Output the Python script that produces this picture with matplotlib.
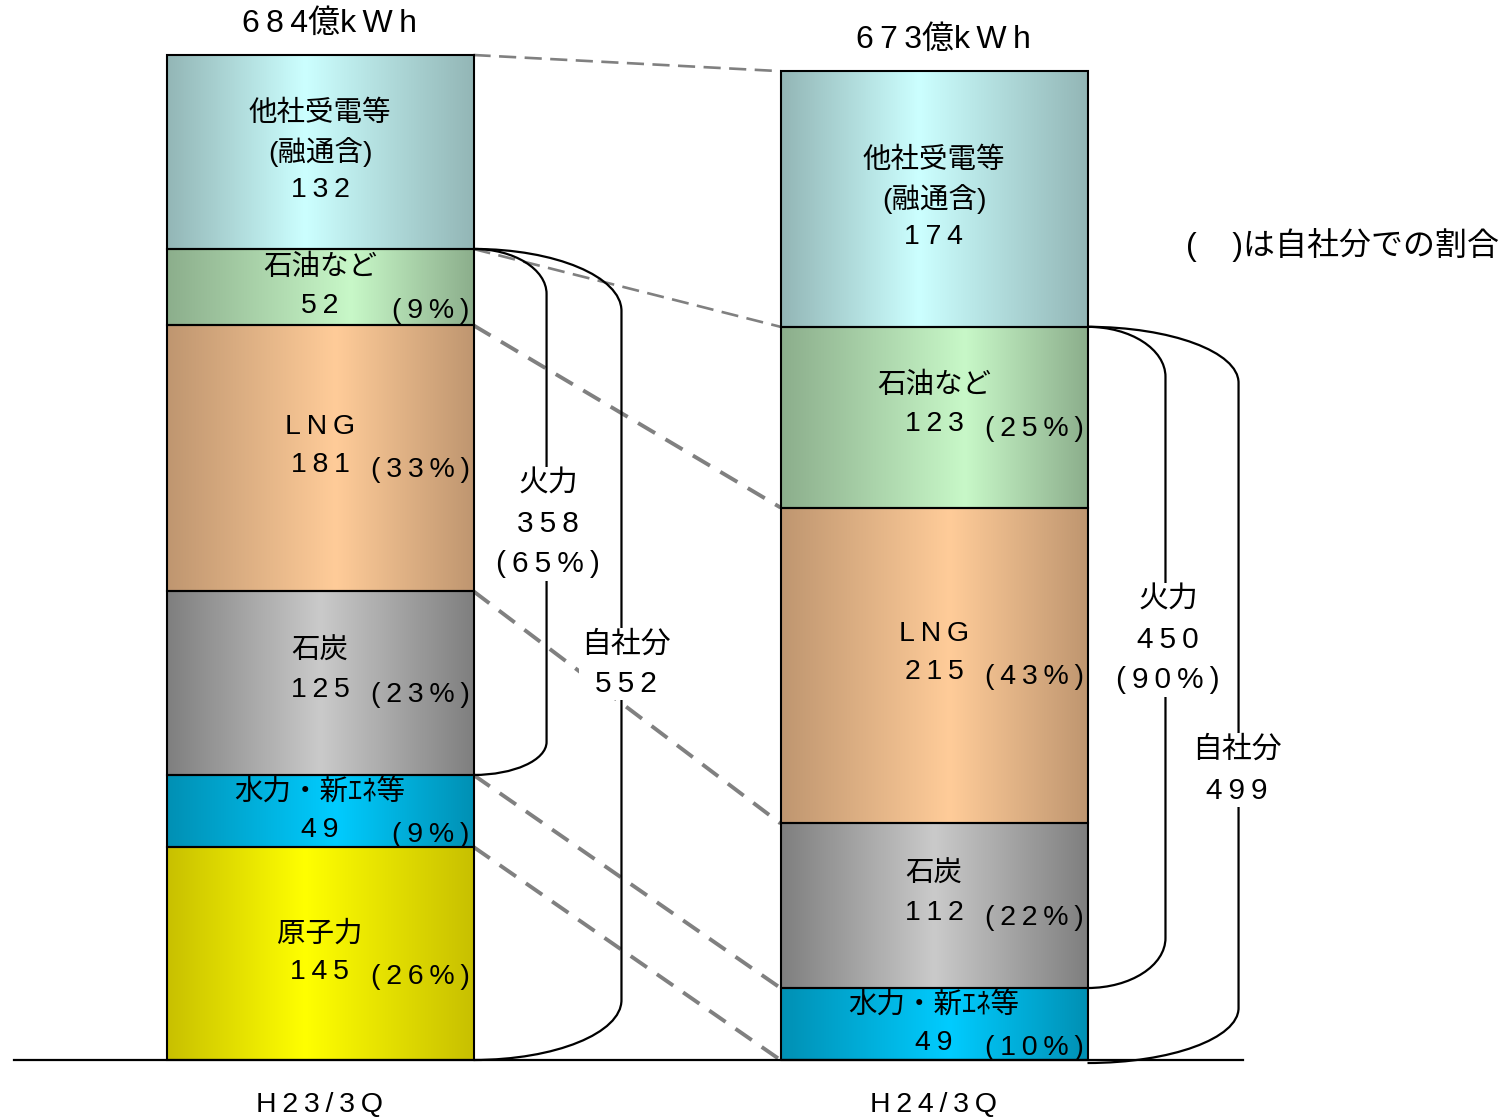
import matplotlib.pyplot as plt
import numpy as np
from matplotlib.colors import to_rgb
from matplotlib.path import Path
from matplotlib.patches import PathPatch

plt.rcParams['font.family'] = ['Liberation Sans', 'Noto Sans CJK JP', 'DejaVu Sans']

# データ（億kWh）
periods = ['H23/3Q', 'H24/3Q']
sources = ['原子力', '水力・新ｴﾈ等', '石炭', 'LNG', '石油など', '他社受電等\n(融通含)']
h23 = [145, 49, 125, 181, 52, 132]
h24 = [0, 49, 112, 215, 123, 174]
h23_pct = [26, 9, 23, 33, 9, None]
h24_pct = [0, 10, 22, 43, 25, None]
totals = [684, 673]
thermal = [358, 450]
thermal_pct = [65, 90]
own = [552, 499]

edge_cols = ['#c8c000', '#0090b4', '#7f7f7f', '#bf9670', '#8cae8c', '#93b6b6']
mid_cols = ['#ffff00', '#00ccff', '#cacaca', '#ffcc99', '#c8f8c8', '#ccffff']
peak = [0.45, 0.55, 0.5, 0.55, 0.6, 0.45]

THIN = '\u2009'
FS = 20.5


def sp(s):
    # 英数字の字間を広げる
    out = ''
    for a, b in zip(s, s[1:] + '\n'):
        out += a
        if a.isascii() and b.isascii() and a not in ' \n' and b not in ' \n':
            out += THIN
    return out


# 画素 -> データ座標
X0, PX_X = 320, 614
Y0, PX_Y = 1060, 1005 / 684


def d(px, py):
    return (px - X0) / PX_X, (Y0 - py) / PX_Y


def dy(p):
    return p / PX_Y


fig = plt.figure(figsize=(15.08, 11.19), dpi=100, facecolor='white')
ax = fig.add_axes([0, 0, 1, 1])
ax.axis('off')

x = np.arange(len(periods))
width = 0.5
vals = np.array([h23, h24], dtype=float)
pcts = [h23_pct, h24_pct]
bottoms = np.hstack([np.zeros((2, 1)), np.cumsum(vals, axis=1)[:, :-1]])
tops = np.cumsum(vals, axis=1)

t = np.linspace(0, 1, 300)
for j in range(len(sources)):
    bars = ax.bar(x, vals[:, j], width, bottom=bottoms[:, j], facecolor='none',
                  edgecolor='black', linewidth=1.5, zorder=3)
    for i, rect in enumerate(bars):
        h = rect.get_height()
        if h <= 0:
            continue
        x0, y0, w = rect.get_x(), rect.get_y(), rect.get_width()
        c = peak[j]
        wt = np.where(t < c, t / c, (1 - t) / (1 - c))
        e, m = np.array(to_rgb(edge_cols[j])), np.array(to_rgb(mid_cols[j]))
        img = e[None, :] + (m - e)[None, :] * wt[:, None]
        ax.imshow(img[None, :, :], extent=[x0, x0 + w, y0, y0 + h], aspect='auto',
                  interpolation='bilinear', zorder=2)

        # ラベル
        mid = y0 + h / 2
        if j in (2, 3, 4) and h > dy(150):
            mid += dy(12)
        lines = sources[j].split('\n') + [str(int(vals[i, j]))]
        pitch = dy(38)
        ytop = mid + pitch * (len(lines) - 1) / 2
        for k, s in enumerate(lines):
            ax.text(x0 + w / 2, ytop - k * pitch, sp(s), ha='center', va='center',
                    fontsize=FS, zorder=5)
        if pcts[i][j] is not None:
            ax.text(x0 + w - 0.006, ytop - (len(lines) - 1) * pitch - dy(5),
                    sp('(%d%%)' % pcts[i][j]), ha='right', va='center',
                    fontsize=FS, zorder=5)

# 破線（区分の境界をつなぐ）
for k in range(len(sources)):
    thin = k >= 4
    ax.plot([x[0] + width / 2, x[1] - width / 2], [tops[0, k], tops[1, k]],
            color='#808080', lw=1.9 if thin else 2.8,
            ls=(0, (6.5, 3.2)) if thin else (0, (5.1, 3.1)), zorder=1)

# 合計と年度
for i in range(2):
    ax.text(x[i] + 0.015, totals[i] + dy(31), sp('%d億kWh' % totals[i]),
            ha='center', va='center', fontsize=23)
    ax.text(x[i], -dy(45), sp(periods[i]), ha='center', va='center', fontsize=FS)

ax.axhline(0, xmin=14 / 1508, xmax=1243 / 1508, color='black', lw=1.6, zorder=4)


def bracket(xb, yt, yb, xo, rt, rb):
    k = 0.552
    a = xo - xb
    verts = [(xb, yt), (xb + k * a, yt), (xo, yt - rt + k * rt), (xo, yt - rt),
             (xo, yb + rb),
             (xo, yb + rb - k * rb), (xb + k * a, yb), (xb, yb)]
    codes = [Path.MOVETO, Path.CURVE4, Path.CURVE4, Path.CURVE4, Path.LINETO,
             Path.CURVE4, Path.CURVE4, Path.CURVE4]
    ax.add_patch(PathPatch(Path(verts, codes), fill=False, lw=1.6,
                           edgecolor='black', zorder=4))


base = tops[:, 1]  # 原子力＋水力
right = x + width / 2
bracket(right[0], own[0], base[0], right[0] + 0.119, dy(45), dy(33))
bracket(right[0], own[0], 0, right[0] + 0.241, dy(62), dy(60))
bracket(right[1], own[1], base[1], right[1] + 0.127, dy(50), dy(50))
bracket(right[1], own[1], -dy(3), right[1] + 0.246, dy(56), dy(55))

box = dict(facecolor='white', edgecolor='none', pad=2)
lbl = [('火力\n%d\n(%d%%)' % (thermal[0], thermal_pct[0]), 548, 524, 1.55),
       ('自社分\n%d' % own[0], 626, 664, 1.5),
       ('火力\n%d\n(%d%%)' % (thermal[1], thermal_pct[1]), 1168, 640, 1.55),
       ('自社分\n%d' % own[1], 1237, 770, 1.6)]
for s, px, py, ls in lbl:
    ax.text(*d(px, py), sp(s), ha='center', va='center', fontsize=21.5,
            linespacing=ls, bbox=box, zorder=6)

ax.text(*d(1186, 245), '(    )は自社分での割合', ha='left', va='center', fontsize=23)

ax.set_xlim(d(0, 0)[0], d(1508, 0)[0])
ax.set_ylim(d(0, 1119)[1], d(0, 0)[1])

fig.savefig('out.png', dpi=100)
